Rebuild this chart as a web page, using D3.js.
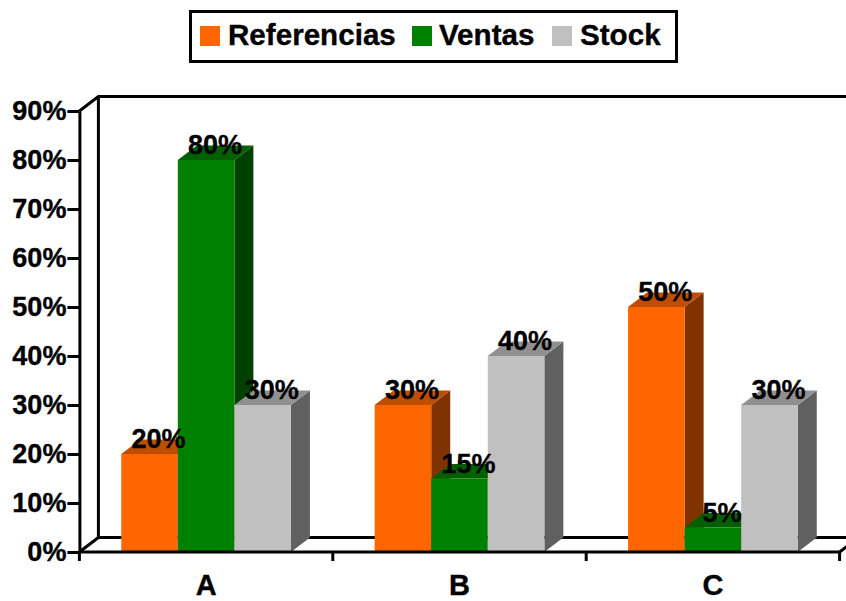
<!DOCTYPE html>
<html>
<head>
<meta charset="utf-8">
<script src="https://cdn.jsdelivr.net/npm/d3@7/dist/d3.min.js"></script>
<style>
  html, body { margin: 0; padding: 0; background: #fff; }
  svg { display: block; }
  text { font-family: "Liberation Sans", Arial, sans-serif; font-weight: bold; fill: #000; stroke: #000; stroke-width: 0.35px; }
</style>
</head>
<body>
<svg id="chart" width="846" height="601"></svg>
<script>
// Percentage shares per class
const categories = ["A", "B", "C"];
const seriesNames = ["Referencias", "Ventas", "Stock"];
const referencias = [20, 30, 50];
const ventas = [80, 15, 5];
const stock = [30, 40, 30];
const yTicks = [0, 10, 20, 30, 40, 50, 60, 70, 80, 90];

const seriesValues = [referencias, ventas, stock];
const faceColors = ["#FF6600", "#008000", "#C0C0C0"];
const topColors = ["#BF4D00", "#006000", "#909090"];
const sideColors = ["#803300", "#004000", "#606060"];

// Oblique offset of the 3D depth
const depthX = 19, depthY = 14.5;

const svg = d3.select("#chart");
const y = d3.scaleLinear().domain([0, 90]).range([552, 111]);
const x = d3.scaleBand().domain(categories).range([79.4, 839.6]);
const xInner = d3.scaleBand().domain(seriesNames).range([0, x.bandwidth()]).paddingOuter(0.74).paddingInner(0);

// Back wall and floor outline
const wall = svg.append("g").attr("fill", "none").attr("stroke", "#000").attr("stroke-width", 3);
wall.append("path").attr("d", d3.line()([
  [x.range()[0], y(90)], [x.range()[0] + depthX, y(90) - depthY], [846, y(90) - depthY]
]));
wall.append("path").attr("d", d3.line()([
  [x.range()[0] + depthX, y(90) - depthY], [x.range()[0] + depthX, y(0) - depthY], [846, y(0) - depthY]
]));
wall.append("path").attr("d", d3.line()([
  [x.range()[0], y(0)], [x.range()[0] + depthX, y(0) - depthY]
]));
wall.append("path").attr("d", d3.line()([
  [x.range()[1], y(0)], [x.range()[1] + depthX, y(0) - depthY]
]));

// Bars: front, top and side faces
const bars = svg.append("g");
categories.forEach((cat, c) => {
  seriesNames.forEach((name, s) => {
    const x0 = x(cat) + xInner(name);
    const w = xInner.bandwidth();
    const yv = y(seriesValues[s][c]);
    const y0 = y(0);
    bars.append("path").attr("fill", sideColors[s]).attr("d", d3.line()([
      [x0 + w, yv], [x0 + w + depthX, yv - depthY], [x0 + w + depthX, y0 - depthY], [x0 + w, y0]
    ]) + "Z");
    bars.append("path").attr("fill", topColors[s]).attr("d", d3.line()([
      [x0, yv], [x0 + depthX, yv - depthY], [x0 + w + depthX, yv - depthY], [x0 + w, yv]
    ]) + "Z");
    bars.append("rect").attr("fill", faceColors[s])
      .attr("x", x0).attr("y", yv).attr("width", w).attr("height", y0 - yv);
  });
});

// Axes
const styleAxis = g => {
  g.selectAll("path, line").attr("stroke", "#000").attr("stroke-width", 3);
  g.selectAll("text").attr("fill", "#000");
};
svg.append("g").attr("transform", `translate(${x.range()[0]},0)`)
  .call(d3.axisLeft(y).tickValues(yTicks).tickFormat(d => d + "%").tickSize(12).tickSizeOuter(0).tickPadding(1))
  .call(styleAxis)
  .call(g => g.selectAll("text").attr("font-size", 27).attr("dy", "0.33em"));

const xAxis = svg.append("g").attr("transform", `translate(0,${y(0)})`)
  .call(d3.axisBottom(x).tickSize(0).tickPadding(22))
  .call(styleAxis)
  .call(g => g.selectAll("text").attr("font-size", 29));
xAxis.select(".domain").remove();
xAxis.append("path").attr("stroke", "#000").attr("stroke-width", 3).attr("fill", "none")
  .attr("d", d3.line()([[x.range()[0], 0], [x.range()[1], 0]]));
xAxis.selectAll(".sep").data([...categories.map(c => x(c)), x.range()[1]]).join("line")
  .attr("class", "sep").attr("stroke", "#000").attr("stroke-width", 3)
  .attr("x1", d => d).attr("x2", d => d).attr("y1", 0).attr("y2", 9);

// Value labels above each bar
const labels = svg.append("g").attr("text-anchor", "middle").attr("font-size", 27);
categories.forEach((cat, c) => {
  seriesNames.forEach((name, s) => {
    labels.append("text")
      .attr("x", x(cat) + xInner(name) + xInner.bandwidth() / 2 + depthX / 2 - 0.5)
      .attr("y", y(seriesValues[s][c]) - 6)
      .text(seriesValues[s][c] + "%");
  });
});

// Legend box
const legend = svg.append("g");
legend.append("rect").attr("x", 190.5).attr("y", 11.5).attr("width", 486).attr("height", 50)
  .attr("fill", "#fff").attr("stroke", "#000").attr("stroke-width", 3);
const swatchX = [200, 412, 552];
const labelX = [228, 439, 580];
seriesNames.forEach((name, s) => {
  legend.append("rect").attr("x", swatchX[s]).attr("y", 26).attr("width", 20).attr("height", 20)
    .attr("fill", faceColors[s]);
  legend.append("text").attr("x", labelX[s]).attr("y", 45).attr("font-size", 29.6).text(name);
});
</script>
</body>
</html>
